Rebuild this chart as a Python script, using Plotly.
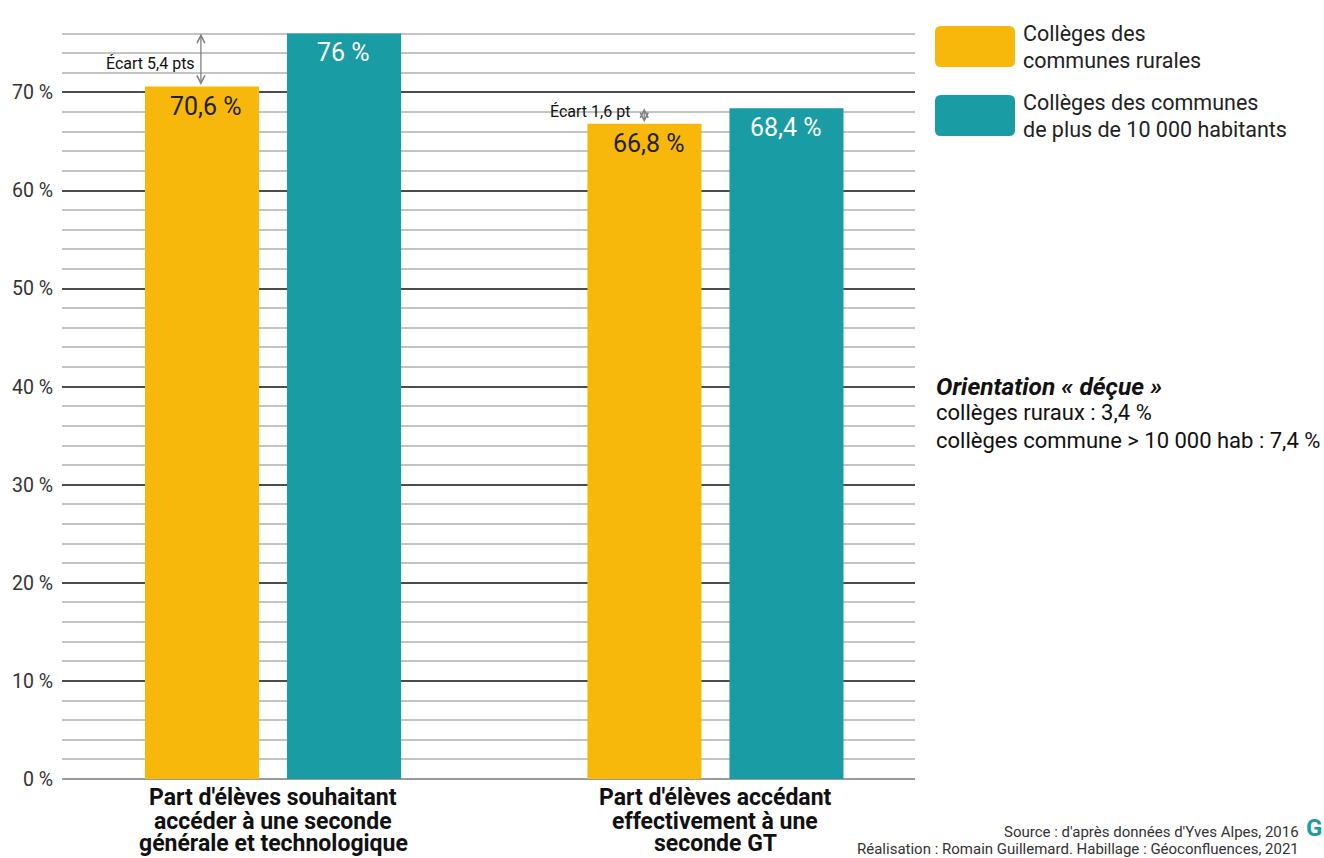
import plotly.graph_objects as go

# Données
category_lines = [
    ["Part d'élèves souhaitant", "accéder à une seconde", "générale et technologique"],
    ["Part d'élèves accédant", "effectivement à une", "seconde GT"],
]
rural = [70.6, 66.8]
urbain = [76.0, 68.4]
series_lines = [["Collèges des", "communes rurales"],
                ["Collèges des communes", "de plus de 10 000 habitants"]]
y_ticks = [0, 10, 20, 30, 40, 50, 60, 70]
note_lines = ["Orientation « déçue »", "collèges ruraux : 3,4 %",
              "collèges commune > 10 000 hab : 7,4 %"]
source_lines = ["Source : d'après données d'Yves Alpes, 2016",
                "Réalisation : Romain Guillemard. Habillage : Géoconfluences, 2021"]

YELLOW = "#F7B80B"
TEAL = "#1A9CA4"
FONT = "Roboto"

W, H = 1324, 858
ML, MR, MT, MB = 62, 409, 14, 79
PW, PH = W - ML - MR, H - MT - MB


def px_x(px):
    return (px - ML) / PW


def px_y(py):
    return (H - MB - py) / PH


def fr(v):
    s = f"{v:.1f}".replace(".", ",")
    return s[:-2] if s.endswith(",0") else s


def rounded_rect(x0, y0, x1, y1, r):
    # rounded rectangle as a path in paper coordinates, from pixel corners
    X, Y = px_x, px_y
    return (f"M {X(x0 + r)},{Y(y0)} L {X(x1 - r)},{Y(y0)} Q {X(x1)},{Y(y0)} {X(x1)},{Y(y0 + r)} "
            f"L {X(x1)},{Y(y1 - r)} Q {X(x1)},{Y(y1)} {X(x1 - r)},{Y(y1)} "
            f"L {X(x0 + r)},{Y(y1)} Q {X(x0)},{Y(y1)} {X(x0)},{Y(y1 - r)} "
            f"L {X(x0)},{Y(y0 + r)} Q {X(x0)},{Y(y0)} {X(x0 + r)},{Y(y0)} Z")


def text_at(px, py, txt, size, color="#111111", xanchor="left", bold=False, italic=False):
    if italic:
        txt = f"<i>{txt}</i>"
    if bold:
        txt = f"<b>{txt}</b>"
    fig.add_annotation(xref="paper", yref="paper", x=px_x(px), y=px_y(py), text=txt,
                       showarrow=False, xanchor=xanchor, yanchor="middle",
                       font=dict(family=FONT, size=size, color=color))


xpos = [0, 1]

fig = go.Figure()
fig.add_trace(go.Bar(x=xpos, y=rural, marker_color=YELLOW, marker_line_width=0))
fig.add_trace(go.Bar(x=xpos, y=urbain, marker_color=TEAL, marker_line_width=0))

fig.update_layout(
    width=W, height=H,
    margin=dict(l=ML, r=MR, t=MT, b=MB, autoexpand=False),
    paper_bgcolor="white", plot_bgcolor="white",
    barmode="group", bargap=0.358, bargroupgap=0.197,
    showlegend=False,
    font=dict(family=FONT, color="#333333"),
)
fig.update_xaxes(range=[-0.477, 1.451], showticklabels=False, showgrid=False,
                 zeroline=False, showline=False, automargin=False)
fig.update_yaxes(range=[0, 78], tickvals=y_ticks,
                 ticktext=[f"{v} %" for v in y_ticks],
                 tickfont=dict(family=FONT, size=19.5, color="#333333"),
                 ticks="", ticklabelstandoff=8, automargin=False,
                 showgrid=True, gridcolor="#4d4d4d", gridwidth=2,
                 minor=dict(dtick=2, showgrid=True, gridcolor="#c4c4c4", gridwidth=2),
                 zeroline=True, zerolinecolor="#9a9a9a", zerolinewidth=2,
                 layer="below traces")

# Valeurs en haut des barres
offset = 0.16
for i, x in enumerate(xpos):
    fig.add_annotation(x=x - offset, y=rural[i], xref="x", yref="y", text=fr(rural[i]) + " %",
                       showarrow=False, yanchor="middle", yshift=-20, xshift=4,
                       font=dict(family=FONT, size=25, color="#222222"))
    fig.add_annotation(x=x + offset, y=urbain[i], xref="x", yref="y", text=fr(urbain[i]) + " %",
                       showarrow=False, yanchor="middle", yshift=-19,
                       font=dict(family=FONT, size=25, color="#FFFFFF"))

# Libellés des catégories sous les barres
line_y = [798, 821, 844]
for x, lines in zip(xpos, category_lines):
    for ly, txt in zip(line_y, lines):
        fig.add_annotation(x=x, xref="x", y=px_y(ly), yref="paper", text=f"<b>{txt}</b>",
                           showarrow=False, yanchor="middle", align="center", borderpad=0,
                           font=dict(family=FONT, size=23, color="#111111"))

# Flèches d'écart entre les deux types de collèges
arrow_x = [-0.163, 0.839]
for i, ax in enumerate(arrow_x):
    lo, hi = rural[i], urbain[i]
    fig.add_annotation(x=ax, y=hi, ax=ax, ay=lo, xref="x", yref="y", axref="x", ayref="y",
                       text="", showarrow=True, arrowhead=5, startarrowhead=5,
                       arrowside="end+start", arrowsize=1.2, arrowwidth=1.3,
                       arrowcolor="#808080")
gap1 = round(urbain[0] - rural[0], 1)
gap2 = round(urbain[1] - rural[1], 1)
text_at(197, 64, f"Écart {fr(gap1)} pts", 16, xanchor="right")
text_at(632, 111, f"Écart {fr(gap2)} pt", 16, xanchor="right")

# Légende
boxes = [(26, 67), (95, 136)]
text_y = [(33, 60), (102, 129)]
for (top, bot), col, lines, ys in zip(boxes, [YELLOW, TEAL], series_lines, text_y):
    fig.add_shape(type="path", xref="paper", yref="paper",
                  path=rounded_rect(935, top, 1015, bot, 6),
                  fillcolor=col, line=dict(width=0), layer="above")
    for ly, txt in zip(ys, lines):
        text_at(1021, ly, txt, 21.5, color="#222222")

# Encadré « orientation déçue »
text_at(934, 386, note_lines[0], 24.5, bold=True, italic=True)
for ly, txt in zip([413, 440], note_lines[1:]):
    text_at(934, ly, txt, 22)

# Source
for ly, txt in zip([832, 849], source_lines):
    text_at(1301, ly, txt, 15, color="#333333", xanchor="right")
text_at(1304, 828, "G", 24, color=TEAL, bold=True)

fig.write_html("out.html")
